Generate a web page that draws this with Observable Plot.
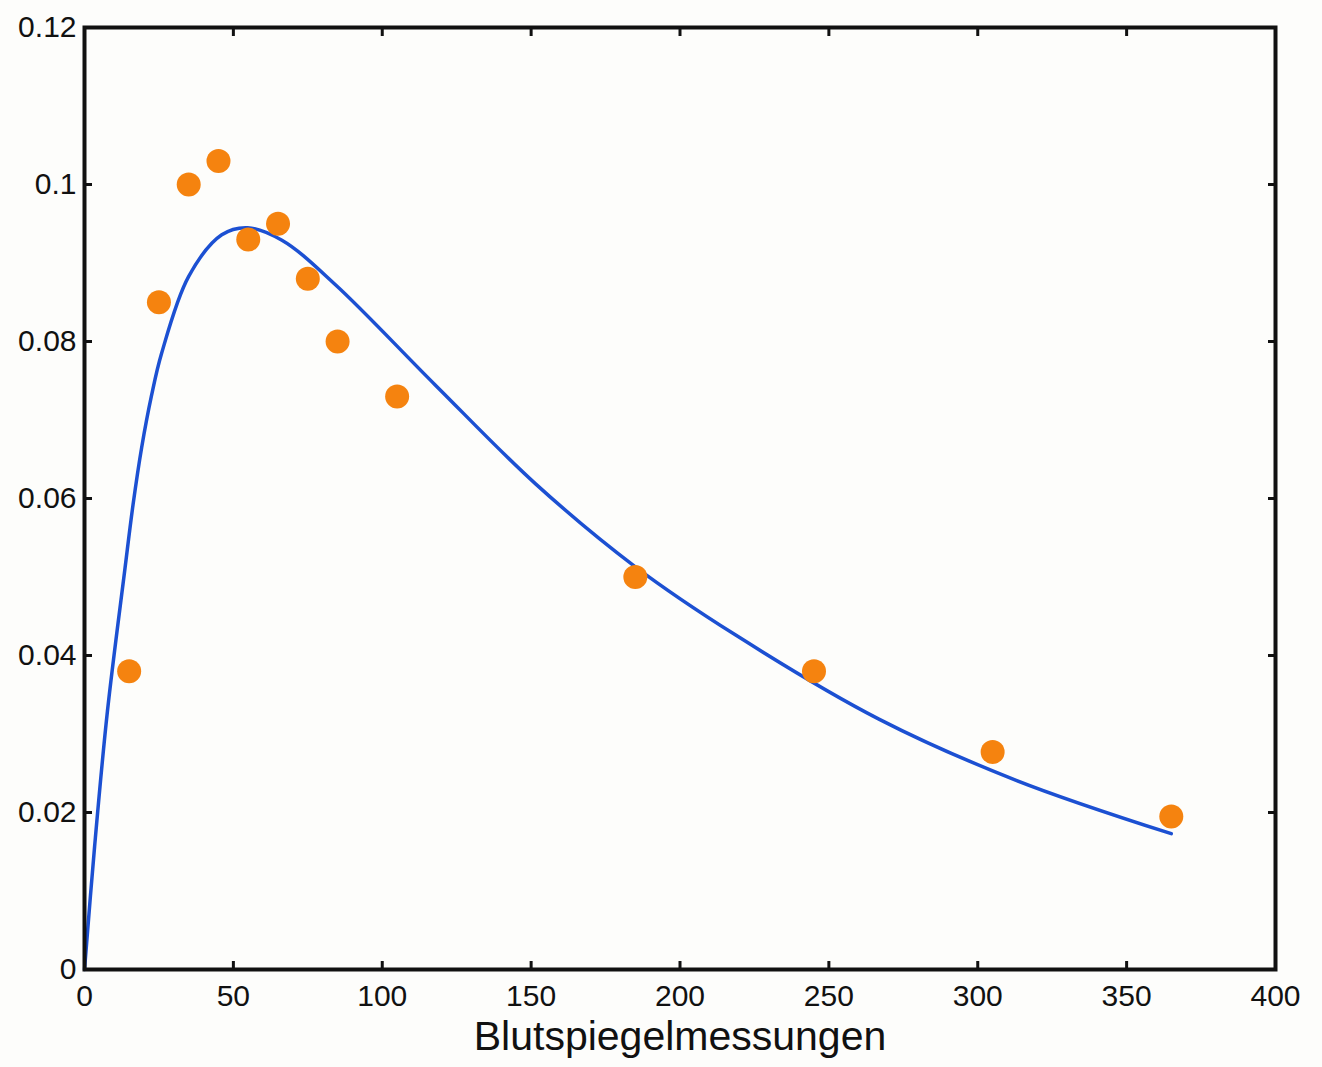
<!DOCTYPE html>
<html>
<head>
<meta charset="utf-8">
<script src="https://cdn.jsdelivr.net/npm/d3@7"></script>
<script src="https://cdn.jsdelivr.net/npm/@observablehq/plot@0.6"></script>
<style>
  html, body { margin: 0; padding: 0; background: #fdfdfb; }
  #chart svg { display: block; background: #fdfdfb; }
</style>
</head>
<body>
<div id="chart"></div>
<script>
// Measured data (orange dots)
const measX = [15, 25, 35, 45, 55, 65, 75, 85, 105, 185, 245, 305, 365];
const measY = [0.038, 0.085, 0.100, 0.103, 0.093, 0.095, 0.088, 0.080, 0.073, 0.050, 0.038, 0.0277, 0.0195];

// Fitted curve (blue line)
const fitX = [0, 3.4, 7.7, 13.5, 16.3, 19.2, 22.5, 25.9, 35.0, 46.1, 54.8, 66.3, 84.1, 117.7, 151.4, 185.0, 218.7, 266.8, 312.9, 365.0];
const fitY = [0, 0.0157, 0.0329, 0.0508, 0.0592, 0.0665, 0.0731, 0.0785, 0.0883, 0.0936, 0.0945, 0.0929, 0.0873, 0.0745, 0.0619, 0.0513, 0.0426, 0.0319, 0.0241, 0.0173];

// Tick values
const xTicks = [0, 50, 100, 150, 200, 250, 300, 350, 400];
const yTicks = [0, 0.02, 0.04, 0.06, 0.08, 0.1, 0.12];
const xLabel = "Blutspiegelmessungen";

const meas = measX.map((x, i) => ({x, y: measY[i]}));
const fit = fitX.map((x, i) => ({x, y: fitY[i]}));
const yFmt = d => d === 0 ? "0" : String(+d.toFixed(2));

const chart = Plot.plot({
  width: 1322,
  height: 1067,
  marginLeft: 84,
  marginRight: 47,
  marginTop: 27,
  marginBottom: 98,
  style: {fontFamily: "'Liberation Sans', Arial, Helvetica, sans-serif", color: "#111", background: "#fdfdfb"},
  x: {domain: [0, 400]},
  y: {domain: [0, 0.12]},
  marks: [
    Plot.line(fit, {x: "x", y: "y", stroke: "#1c50d2", strokeWidth: 3.5, curve: "catmull-rom"}),
    Plot.dot(meas, {x: "x", y: "y", r: 12, fill: "#f5830f", stroke: "none"}),
    Plot.axisX({anchor: "bottom", ticks: xTicks, tickSize: -8, tickPadding: 23, strokeWidth: 3, fontSize: 30, label: null}),
    Plot.axisX({anchor: "bottom", ticks: [], tickSize: 0, fontSize: 41, label: xLabel, labelAnchor: "center", labelOffset: 80, labelArrow: "none"}),
    Plot.axisX({anchor: "top", ticks: xTicks, tickSize: -8, strokeWidth: 3, fill: "none", label: null}),
    Plot.axisY({anchor: "left", ticks: yTicks, tickSize: -8, tickPadding: 16, strokeWidth: 3, fontSize: 30, tickFormat: yFmt, label: null}),
    Plot.axisY({anchor: "right", ticks: yTicks, tickSize: -8, strokeWidth: 3, fill: "none", label: null}),
    Plot.frame({stroke: "#111", strokeWidth: 4})
  ]
});
document.getElementById("chart").append(chart);
</script>
</body>
</html>
